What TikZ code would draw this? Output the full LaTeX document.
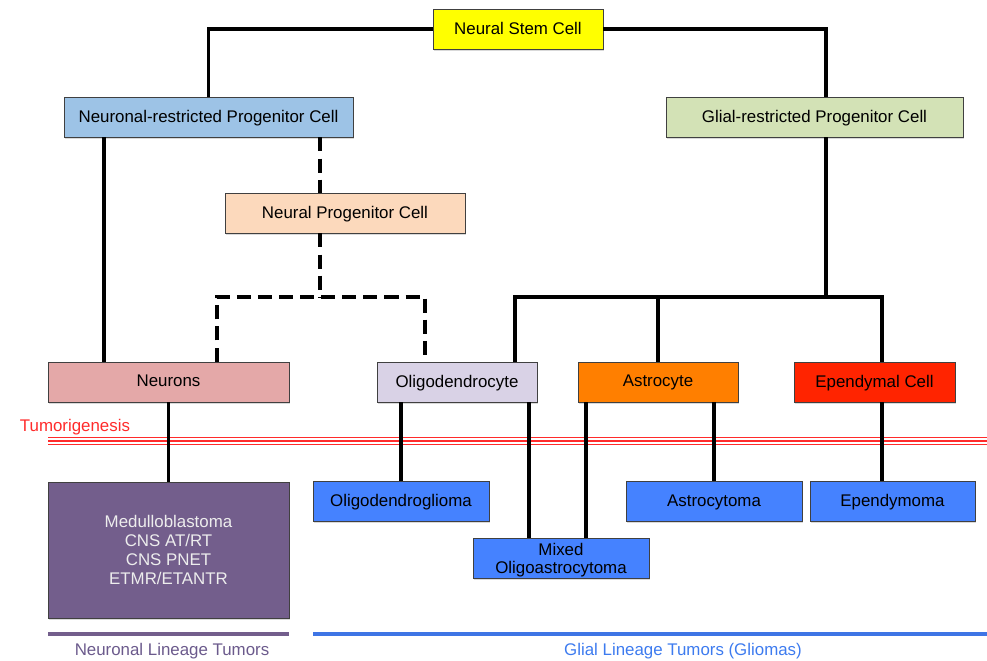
\documentclass[tikz,border=0pt]{standalone}
\usepackage{fontspec}
\setmainfont{Liberation Sans}
\usetikzlibrary{shadows}
\definecolor{stemyellow}{HTML}{FFFF00}
\definecolor{nrpblue}{HTML}{9DC3E6}
\definecolor{grpgreen}{HTML}{D3E2B6}
\definecolor{npcpeach}{HTML}{FCD9BC}
\definecolor{neuronpink}{HTML}{E4A8A8}
\definecolor{oligolilac}{HTML}{D9D2E6}
\definecolor{astroorange}{HTML}{FF7F00}
\definecolor{ependred}{HTML}{FF2400}
\definecolor{tumorblue}{HTML}{4582FF}
\definecolor{tumorpurple}{HTML}{735E8C}
\definecolor{tumorred}{HTML}{FF2B2B}
\definecolor{glialtext}{HTML}{3D7BEF}
\definecolor{neurontext}{HTML}{6B5A8C}
\tikzset{cell/.style={draw=black!75, line width=0.6pt, minimum height=1cm, inner sep=2pt, text depth=0.15em, font=\fontsize{12}{13}\selectfont, drop shadow={shadow xshift=0.8pt, shadow yshift=-1.2pt, opacity=0.3}},
  link/.style={black, line width=2.3pt},
  dashlink/.style={link, dash pattern=on 10pt off 5pt}}

\begin{document}
\begin{tikzpicture}[x=0.025cm,y=-0.025cm]
   \useasboundingbox (0,0) rectangle (987,661);
   \node[cell, fill=stemyellow,  minimum width=4.25cm]  (nsc) at (518,29)    {Neural Stem Cell};
   \node[cell, fill=nrpblue,     minimum width=7.225cm] (nrp) at (208.5,117) {Neuronal-restricted Progenitor Cell};
   \node[cell, fill=grpgreen,    minimum width=7.425cm] (grp) at (814.5,117) {Glial-restricted Progenitor Cell};
   \node[cell, fill=npcpeach,    minimum width=6cm]     (npc) at (345,213)   {Neural Progenitor Cell};
   \node[cell, fill=neuronpink,  minimum width=6.025cm] (neu) at (168.5,382) {Neurons};
   \node[cell, fill=oligolilac,  minimum width=4cm]     (oli) at (457,382)   {Oligodendrocyte};
   \node[cell, fill=astroorange, minimum width=4cm]     (ast) at (658,382)   {Astrocyte};
   \node[cell, fill=ependred,    minimum width=4.025cm] (epe) at (874.5,382) {Ependymal Cell};
   \node[cell, fill=tumorpurple, text=black!7, minimum width=6.025cm, minimum height=3.4cm, align=center,
         text depth=0pt, font=\fontsize{12}{13.5}\selectfont] (med) at (168.5,550) {Medulloblastoma\\CNS AT/RT\\CNS PNET\\ETMR/ETANTR};
   \node[cell, fill=tumorblue, minimum width=4.4cm]   (olg) at (401,501.5) {Oligodendroglioma};
   \node[cell, fill=tumorblue, minimum width=4.4cm]   (asc) at (714,501.5) {Astrocytoma};
   \node[cell, fill=tumorblue, minimum width=4.125cm] (epm) at (892.5,501.5) {Ependymoma};
   \node[cell, fill=tumorblue, minimum width=4.4cm, inner sep=0pt, align=center, text depth=0pt,
         font=\fontsize{12}{12.8}\selectfont] (mix) at (561,558) {Mixed\\Oligoastrocytoma};

   \coordinate (nleft) at (104,297);
   \coordinate (nbus)  at (320,297);
   \coordinate (ndl)   at (217,297);
   \coordinate (ndr)   at (425,297);
   \coordinate (gbus)  at (826,297);
   \coordinate (oliin) at (515,297);
   \coordinate (epein) at (882,297);
   \coordinate (mixl)  at (529,297);
   \coordinate (mixr)  at (586,297);

   \node[text=tumorred, anchor=base west, font=\fontsize{12}{14}\selectfont] (tum) at (15,432) {Tumorigenesis};
   \foreach \y in {437.5,441,444.5}
     \draw[tumorred, line width=1.2pt] (48,\y) -- (987,\y);

   \draw[link] (nsc.west) -| (nrp.north);
   \draw[link] (nsc.east) -| (gbus |- grp.north);
   \draw[link] (grp.south -| gbus) -- (gbus);
   \draw[link] (oli.north -| oliin) -- (oliin) -- (epein) -- (epe.north -| epein);
   \draw[link] (ast.north) -- (ast.north |- gbus);
   \draw[link] (nrp.south -| nleft) -- (neu.north -| nleft);
   \draw[dashlink] (nrp.south -| nbus) -- (npc.north -| nbus);
   \draw[dashlink] (npc.south -| nbus) -- (nbus);
   \draw[dashlink] (neu.north -| ndl) -- (ndl) -- (ndr) -- (oli.north -| ndr);

   \draw[link] (neu.south) -- (med.north);
   \draw[link] (oli.south -| olg.north) -- (olg.north);
   \draw[link] (oli.south -| mixl) -- (mix.north -| mixl);
   \draw[link] (ast.south -| mixr) -- (mix.north -| mixr);
   \draw[link] (ast.south -| asc.north) -- (asc.north);
   \draw[link] (epe.south -| epein) -- (epm.north -| epein);

   \draw[tumorpurple, line width=2.8pt] (48,634) -- (289,634);
   \draw[tumorblue!90!black, line width=2.8pt] (313,634) -- (987,634);
   \node[text=neurontext, font=\fontsize{12}{14}\selectfont] (nlt) at (172,651) {Neuronal Lineage Tumors};
   \node[text=glialtext, font=\fontsize{12}{14}\selectfont] (glt) at (683,651) {Glial Lineage Tumors (Gliomas)};
  \end{tikzpicture}
\end{document}
